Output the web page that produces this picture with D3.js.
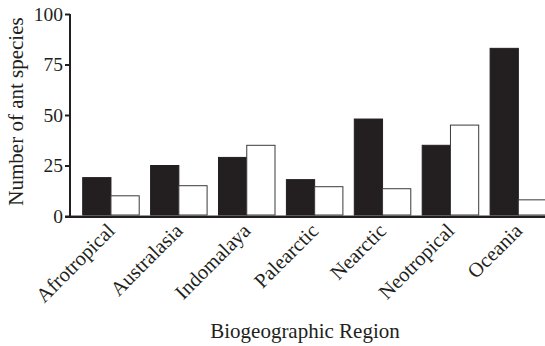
<!DOCTYPE html>
<html><head><meta charset="utf-8">
<script src="https://cdn.jsdelivr.net/npm/d3@7"></script>
<style>
html,body{margin:0;padding:0;background:#fff;}
svg{display:block;}
text{font-family:"Liberation Serif","DejaVu Serif",serif;fill:#231f20;}
</style></head>
<body>
<svg id="chart" width="545" height="346"></svg>
<script>
const regions = ["Afrotropical","Australasia","Indomalaya","Palearctic","Nearctic","Neotropical","Oceania"];
const seriesNames = ["filled","open"];
const filledValues = [19, 25, 29, 18, 48, 35, 83];
const openValues = [10, 15, 35, 14.5, 13.5, 45, 8];
const yTicks = [0, 25, 50, 75, 100];

const svg = d3.select("#chart");
const W = 545, H = 346;
const y0 = 216, yTop = 14, axisX = 70;

const y = d3.scaleLinear().domain([0, 100]).range([y0, yTop]);
const x0 = d3.scaleBand().domain(regions).range([77, 552.3]).paddingInner(0.168).paddingOuter(0.084);
const x1 = d3.scaleBand().domain(seriesNames).range([0, x0.bandwidth()]);
const fill = d3.scaleOrdinal().domain(seriesNames).range(["#231f20", "#ffffff"]);

const data = regions.map((r, i) => ({region: r, values: [
  {key: "filled", v: filledValues[i]}, {key: "open", v: openValues[i]}]}));

// faint baseline under bars
svg.append("line").attr("x1", axisX).attr("x2", W).attr("y1", y(0) - 0.5).attr("y2", y(0) - 0.5)
  .attr("stroke", "#999").attr("stroke-width", 1);

const g = svg.append("g").selectAll("g").data(data).join("g")
  .attr("transform", d => `translate(${x0(d.region)},0)`);
g.selectAll("rect").data(d => d.values).join("rect")
  .attr("x", d => x1(d.key))
  .attr("y", d => y(d.v))
  .attr("width", x1.bandwidth())
  .attr("height", d => y(0) - 1 - y(d.v))
  .attr("fill", d => fill(d.key))
  .attr("stroke", d => d.key === "open" ? "#3a3a3a" : "#231f20")
  .attr("stroke-width", 1);

// y axis
const yAxis = d3.axisLeft(y).tickValues(yTicks).tickSize(5).tickPadding(2).tickFormat(d3.format("d"));
const ya = svg.append("g").attr("transform", `translate(${axisX},0)`).call(yAxis);
ya.select(".domain").attr("stroke", "#231f20").attr("stroke-width", 2).attr("d", `M0,${yTop}V${y0 + 1}`);
ya.selectAll(".tick line").attr("stroke", "#231f20").attr("stroke-width", 2);
ya.selectAll(".tick text").style("font-size", "19.5px").attr("dy", "0.33em").attr("fill", "#231f20");

// x axis
const xAxis = d3.axisBottom(x0).tickSize(0).tickPadding(0);
const xa = svg.append("g").attr("transform", `translate(0,${y0 + 1})`).call(xAxis);
xa.select(".domain").attr("stroke", "#231f20").attr("stroke-width", 2).attr("d", `M${axisX - 5},0H${W}`);
xa.selectAll(".tick text")
  .style("font-size", "20.5px")
  .attr("text-anchor", "end")
  .attr("dy", null)
  .attr("transform", "translate(5,15) rotate(-45)")
  .attr("fill", "#231f20");

// titles
svg.append("text").attr("x", 305).attr("y", 338).attr("text-anchor", "middle")
  .style("font-size", "21px").text("Biogeographic Region");
svg.append("text").attr("transform", `translate(23,111.5) rotate(-90)`)
  .attr("text-anchor", "middle").style("font-size", "21px").text("Number of ant species");
</script>
</body></html>
